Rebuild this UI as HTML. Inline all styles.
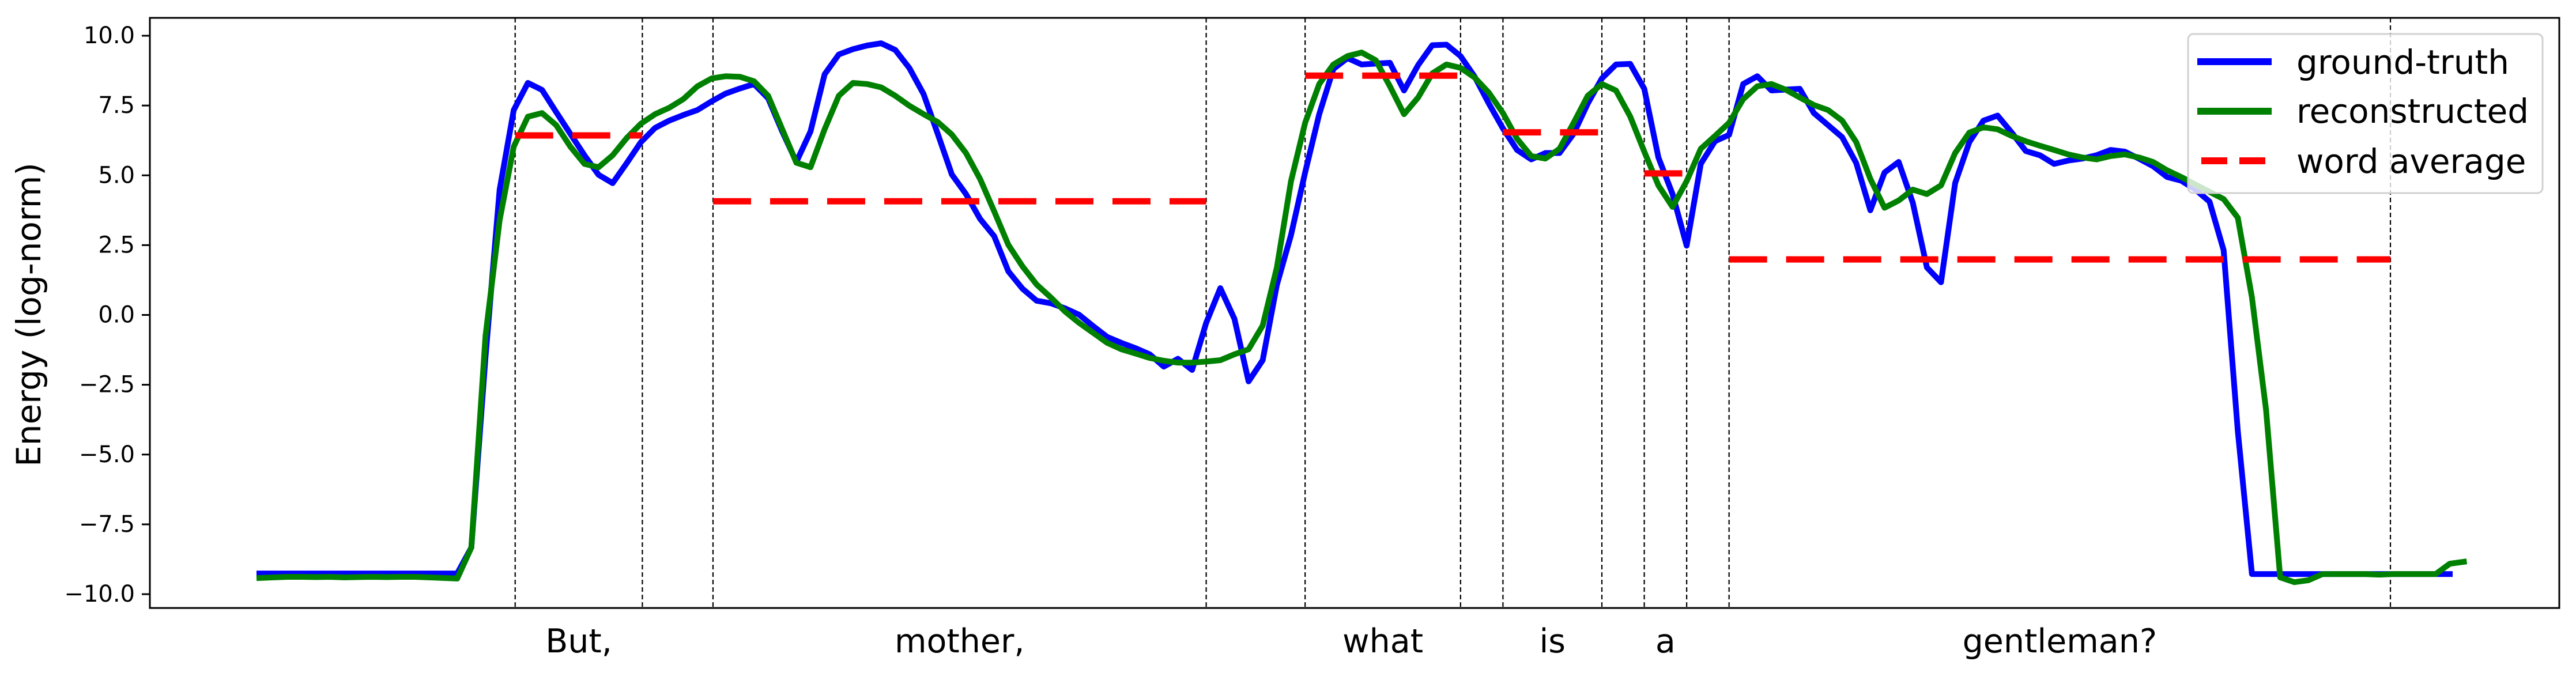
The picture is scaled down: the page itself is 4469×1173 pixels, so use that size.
<!DOCTYPE html>
<html><head><meta charset="utf-8"><style>
html,body{margin:0;padding:0;background:#fff;}
svg{display:block;}
text{font-family:"DejaVu Sans","Liberation Sans",sans-serif;fill:#000;}
</style></head><body>
<svg id="chart" width="4469" height="1173" viewBox="0 0 4469 1173" xmlns="http://www.w3.org/2000/svg">
<rect x="0" y="0" width="4469" height="1173" fill="#fff"/>
<g id="vlines"></g>
<g id="series"></g>
<g id="yaxis"></g>
<g id="xlabels"></g>
<rect x="260" y="31" width="4180" height="1024" fill="none" stroke="#000" stroke-width="3"/>
<text x="54" y="546" font-size="58" text-anchor="middle" dominant-baseline="middle" transform="rotate(-90 54 546)">Energy (log-norm)</text>
<g>
  <rect x="3796" y="59" width="615" height="276" rx="9" fill="#fff" fill-opacity="0.8" stroke="#d0d0d0" stroke-width="3"/>
  <line x1="3812" y1="107" x2="3941" y2="107" stroke="#0000ff" stroke-width="12"/>
  <text x="3984" y="128" font-size="58">ground-truth</text>
  <line x1="3812" y1="193" x2="3941" y2="193" stroke="#008000" stroke-width="12"/>
  <text x="3984" y="213" font-size="58">reconstructed</text>
  <line x1="3819" y1="279" x2="3932" y2="279" stroke="#ff0000" stroke-width="12" stroke-dasharray="45,21"/>
  <text x="3984" y="300" font-size="58">word average</text>
</g>
</svg>
<script>
const groundTruth = [-9.26,-9.26,-9.26,-9.26,-9.26,-9.26,-9.26,-9.26,-9.26,-9.26,-9.26,-9.26,-9.26,-9.26,-9.26,-8.33,-1.5,4.49,7.34,8.31,8.06,7.27,6.49,5.72,5.02,4.72,5.44,6.19,6.70,6.96,7.16,7.34,7.65,7.93,8.11,8.27,7.76,6.57,5.48,6.57,8.62,9.33,9.52,9.65,9.73,9.49,8.84,7.91,6.49,5.03,4.33,3.44,2.82,1.56,0.94,0.51,0.42,0.24,0.01,-0.40,-0.79,-1.0,-1.19,-1.41,-1.85,-1.57,-1.97,-0.28,0.96,-0.14,-2.38,-1.62,1.08,2.86,5.1,7.19,8.81,9.2,8.97,9.0,9.03,8.04,8.95,9.66,9.68,9.27,8.53,7.57,6.68,5.91,5.57,5.8,5.8,6.49,7.57,8.47,8.97,8.99,8.1,5.64,4.33,2.48,5.41,6.22,6.45,8.27,8.55,8.04,8.07,8.1,7.23,6.80,6.37,5.44,3.75,5.1,5.48,4.02,1.70,1.17,4.72,6.19,6.96,7.14,6.53,5.87,5.72,5.41,5.53,5.6,5.72,5.91,5.85,5.6,5.33,4.94,4.81,4.49,4.06,2.32,-4.16,-9.28,-9.28,-9.28,-9.28,-9.28,-9.28,-9.28,-9.28,-9.28,-9.28,-9.28,-9.28,-9.28,-9.28,-9.28];
const reconstructed = [-9.42,-9.40,-9.38,-9.38,-9.39,-9.38,-9.40,-9.39,-9.38,-9.39,-9.38,-9.38,-9.40,-9.42,-9.44,-8.33,-0.75,3.4,6.03,7.1,7.23,6.8,6.03,5.41,5.29,5.72,6.34,6.85,7.19,7.42,7.73,8.19,8.47,8.55,8.53,8.37,7.85,6.65,5.45,5.29,6.65,7.85,8.31,8.27,8.15,7.85,7.49,7.19,6.91,6.46,5.8,4.87,3.71,2.51,1.74,1.09,0.63,0.13,-0.28,-0.64,-1.0,-1.23,-1.38,-1.54,-1.64,-1.71,-1.71,-1.67,-1.62,-1.41,-1.23,-0.38,1.70,4.79,6.88,8.27,8.97,9.27,9.40,9.12,8.19,7.19,7.79,8.65,8.97,8.85,8.50,7.96,7.23,6.31,5.69,5.6,5.95,6.88,7.85,8.27,8.04,7.11,5.85,4.64,3.87,4.79,5.95,6.41,6.88,7.73,8.19,8.27,8.07,7.79,7.52,7.34,6.96,6.19,4.87,3.84,4.1,4.49,4.33,4.64,5.8,6.53,6.72,6.65,6.41,6.22,6.06,5.91,5.75,5.64,5.57,5.69,5.75,5.64,5.48,5.18,4.94,4.67,4.41,4.15,3.48,0.63,-3.40,-9.40,-9.57,-9.5,-9.28,-9.28,-9.28,-9.28,-9.3,-9.28,-9.28,-9.28,-9.28,-8.91,-8.84];
const words = ["But,","mother,","what","is","a","gentleman?"];
const wordStart = [18.1,32.1,74,88,98,104];
const wordEnd = [27.1,67,85,95,101,150.8];
const wordAvg = [6.43,4.07,8.57,6.54,5.07,1.99];
const yTicks = [10,7.5,5,2.5,0,-2.5,-5,-7.5,-10];
const yTickLabels = ["10.0","7.5","5.0","2.5","0.0","\u22122.5","\u22125.0","\u22127.5","\u221210.0"];

const NS = "http://www.w3.org/2000/svg";
const PLOT_L = 260, PLOT_R = 4440, PLOT_T = 31, PLOT_B = 1055;
const nFrames = groundTruth.length;
const xMin = 0, xMax = nFrames - 1;
const xPad = (xMax - xMin) * 0.05;
function xs(f){ return PLOT_L + (f - (xMin - xPad)) / ((xMax - xMin) + 2*xPad) * (PLOT_R - PLOT_L); }
function ys(v){ return 546.5 - v * 48.45; }
function mk(tag, attrs, parent){ const e = document.createElementNS(NS, tag); for (const k in attrs) e.setAttribute(k, attrs[k]); parent.appendChild(e); return e; }

const yaxis = document.getElementById('yaxis');
yTicks.forEach((t, i) => {
  const y = ys(t);
  const tk = mk('line', {x1: PLOT_L - 14, x2: PLOT_L, y1: y, y2: y, stroke: '#000', 'stroke-width': 3}, yaxis);
  
  
  const lb = mk('text', {x: PLOT_L - 26, y: y, 'font-size': 40, 'text-anchor': 'end', 'dominant-baseline': 'central'}, yaxis);
  lb.textContent = yTickLabels[i];
  
  
});

const vl = document.getElementById('vlines');
const bounds = [];
wordStart.forEach((s, i) => { bounds.push(s); bounds.push(wordEnd[i]); });
bounds.forEach(b => {
  const l = mk('line', {x1: xs(b), x2: xs(b), y1: PLOT_T, y2: PLOT_B, stroke: '#000', 'stroke-width': 2.2, 'stroke-dasharray': '8,5'}, vl);
  
  
});

const xl = document.getElementById('xlabels');
words.forEach((w, i) => {
  const t = mk('text', {x: xs((wordStart[i] + wordEnd[i]) / 2), y: 1113, 'font-size': 57, 'text-anchor': 'middle', 'dominant-baseline': 'central'}, xl);
  t.textContent = w;
  
  
});

const sg = document.getElementById('series');
function poly(vals, color, name){
  const pts = vals.map((v, i) => xs(i).toFixed(1) + ',' + ys(v).toFixed(1)).join(' ');
  const p = mk('polyline', {points: pts, fill: 'none', stroke: color, 'stroke-width': 10, 'stroke-linejoin': 'round', 'stroke-linecap': 'square'}, sg);
  
  
}
poly(groundTruth, '#0000ff', 'ground-truth-line');
poly(reconstructed, '#008000', 'reconstructed-line');
words.forEach((w, i) => {
  const l = mk('line', {x1: xs(wordStart[i]), x2: xs(wordEnd[i]), y1: ys(wordAvg[i]), y2: ys(wordAvg[i]), stroke: '#ff0000', 'stroke-width': 11, 'stroke-dasharray': '66,33'}, sg);
  
  
});
</script>
</body></html>
